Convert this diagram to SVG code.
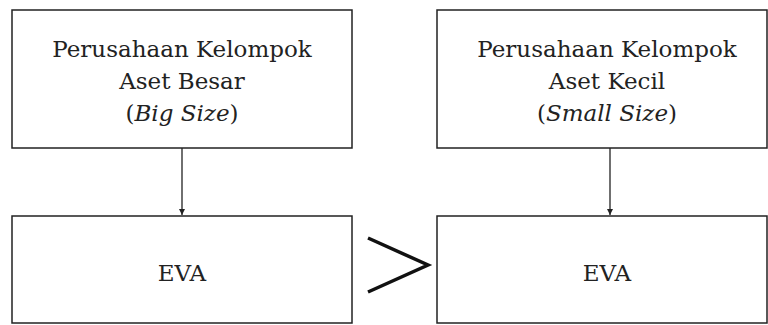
<svg xmlns="http://www.w3.org/2000/svg" width="768" height="325" viewBox="0 0 768 325">
<defs>
<style>
.box{fill:#fff;stroke:#222;stroke-width:1.5}
.t{font-size:23px;fill:#222;text-anchor:middle}
.c{stroke:#222;stroke-width:1.3;fill:none}
</style>
<marker id="ah" viewBox="0 0 10 10" refX="10" refY="5" markerWidth="6" markerHeight="7" markerUnits="userSpaceOnUse" orient="auto">
<path d="M0,0 L10,5 L0,10 z" fill="#222"/>
</marker>
</defs>
<rect width="768" height="325" fill="#fff"/>
<g font-family="'DejaVu Serif', serif">
<g id="big">
<rect class="box" x="12" y="10" width="340" height="138"/>
<text class="t" x="182" y="57">Perusahaan Kelompok</text>
<text class="t" x="182" y="89">Aset Besar</text>
<text class="t" x="182" y="121">(<tspan font-style="italic">Big Size</tspan>)</text>
</g>
<g id="small">
<rect class="box" x="437" y="10" width="330" height="138"/>
<text class="t" x="607" y="57">Perusahaan Kelompok</text>
<text class="t" x="607" y="89">Aset Kecil</text>
<text class="t" x="607" y="121">(<tspan font-style="italic">Small Size</tspan>)</text>
</g>
<g id="eva1">
<rect class="box" x="12" y="216" width="340" height="107"/>
<text class="t" x="182" y="281">EVA</text>
</g>
<g id="eva2">
<rect class="box" x="437" y="216" width="330" height="107"/>
<text class="t" x="607" y="281">EVA</text>
</g>
</g>
<g id="gt">
<polyline points="368,238 428,265 368,292" fill="none" stroke="#111" stroke-width="3.5"/>
</g>
<g id="connectors">
<line class="c" x1="182" y1="148" x2="182" y2="215" marker-end="url(#ah)"/>
<line class="c" x1="610" y1="148" x2="610" y2="215" marker-end="url(#ah)"/>
</g>
</svg>
